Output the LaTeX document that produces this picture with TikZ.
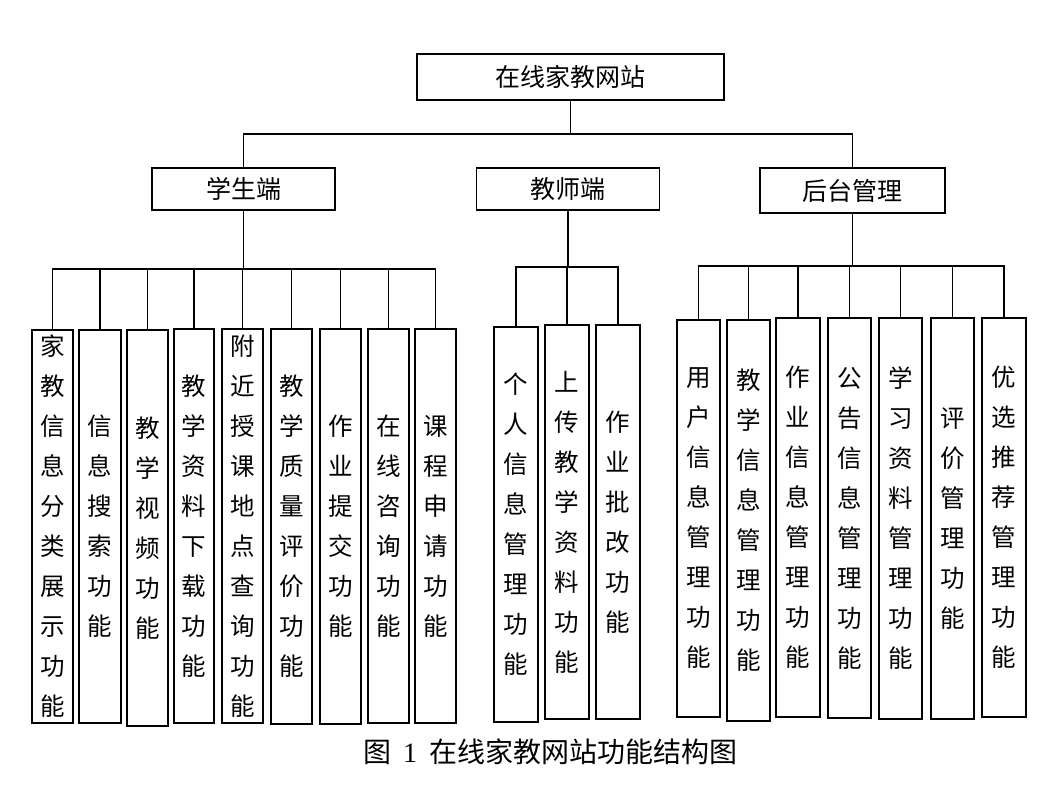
\documentclass[tikz,border=0pt]{standalone}
\usepackage{fontspec}
\setmainfont{Noto Sans CJK SC}
\newfontfamily\numfont{Liberation Serif}
\begin{document}
\begin{tikzpicture}[x=1pt,y=-1pt,
  box/.style={draw, line width=1.9pt, inner sep=0pt},
  headbox/.style={box, font=\fontsize{25}{25}\selectfont},
  leaf/.style={box, align=center, font=\fontsize{24.5}{40}\selectfont},
  wire/.style={line width=1.9pt, line cap=rect}]
\useasboundingbox (0,0) rectangle (1057,788);

% a leaf box given by its corners: name, x1, y1, x2, y2, text
\newcommand\leafnode[6]{%
  \node[leaf, minimum width={#4-#2}, minimum height={#5-#3}]
    (#1) at ({(#2+#4)/2},{(#3+#5)/2}) {#6};}

% root and second level
\node[headbox, minimum width=307, minimum height=46] (root) at (570.5,77) {在线家教网站};
\node[headbox, minimum width=183.5, minimum height=42] (stu) at (243.5,189) {学生端};
\node[headbox, minimum width=183, minimum height=42] (tea) at (568,189) {教师端};
\node[headbox, minimum width=185, minimum height=45] (adm) at (852.5,190.5) {后台管理};

% student functions
\leafnode{s1}{32}{330}{73}{723}{家\\教\\信\\息\\分\\类\\展\\示\\功\\能}
\leafnode{s2}{79}{330}{121}{723}{信\\息\\搜\\索\\功\\能}
\leafnode{s3}{127}{330}{168}{726}{教\\学\\视\\频\\功\\能}
\leafnode{s4}{174}{329}{214}{723}{教\\学\\资\\料\\下\\载\\功\\能}
\leafnode{s5}{222}{329}{263}{723}{附\\近\\授\\课\\地\\点\\查\\询\\功\\能}
\leafnode{s6}{271}{329}{312}{724}{教\\学\\质\\量\\评\\价\\功\\能}
\leafnode{s7}{320}{329}{361}{724}{作\\业\\提\\交\\功\\能}
\leafnode{s8}{368}{329}{409}{723}{在\\线\\咨\\询\\功\\能}
\leafnode{s9}{415}{329}{456}{723}{课\\程\\申\\请\\功\\能}

% teacher functions
\leafnode{t1}{494}{327}{538}{722}{个\\人\\信\\息\\管\\理\\功\\能}
\leafnode{t2}{545}{325}{589}{719}{上\\传\\教\\学\\资\\料\\功\\能}
\leafnode{t3}{596}{325}{640}{719}{作\\业\\批\\改\\功\\能}

% administration functions
\leafnode{a1}{677}{320}{720}{717}{用\\户\\信\\息\\管\\理\\功\\能}
\leafnode{a2}{727}{320}{770}{721}{教\\学\\信\\息\\管\\理\\功\\能}
\leafnode{a3}{776}{318}{820}{717}{作\\业\\信\\息\\管\\理\\功\\能}
\leafnode{a4}{828}{318}{871}{718}{公\\告\\信\\息\\管\\理\\功\\能}
\leafnode{a5}{879}{318}{922}{719}{学\\习\\资\\料\\管\\理\\功\\能}
\leafnode{a6}{931}{318}{974}{719}{评\\价\\管\\理\\功\\能}
\leafnode{a7}{982}{318}{1026}{717}{优\\选\\推\\荐\\管\\理\\功\\能}

% bus lines
\coordinate (topbus) at (570.5,134);
\coordinate (sbus) at (243.5,269);
\coordinate (tbus) at (568,267);
\coordinate (abus) at (852.5,266);

% root to second level
\draw[wire] (root.south) -- (topbus);
\draw[wire] (stu.north) -- (stu.north |- topbus) -- (adm.north |- topbus) -- (adm.north);

% student branch
\draw[wire] (stu.south) -- (stu.south |- sbus);
\draw[wire] (s1.north) -- (s1.north |- sbus) -- (s9.north |- sbus) -- (s9.north);
\foreach \n in {s2,s3,s4,s5,s6,s7,s8}
  \draw[wire] (\n.north) -- (\n.north |- sbus);

% teacher branch
\draw[wire] (tea.south) -- (tea.south |- tbus);
\draw[wire] (t1.north) -- (t1.north |- tbus) -- (t3.north |- tbus) -- (t3.north);
\draw[wire] (t2.north) -- (t2.north |- tbus);

% administration branch
\draw[wire] (adm.south) -- (adm.south |- abus);
\draw[wire] (a1.north) -- (a1.north |- abus) -- (a7.north |- abus) -- (a7.north);
\foreach \n in {a2,a3,a4,a5,a6}
  \draw[wire] (\n.north) -- (\n.north |- abus);

% caption
\node[font=\fontsize{28}{28}\selectfont, inner sep=0pt] (cap) at (550,752)
  {图\hspace{12pt}{\numfont 1}\hspace{12pt}在线家教网站功能结构图};
\end{tikzpicture}
\end{document}
